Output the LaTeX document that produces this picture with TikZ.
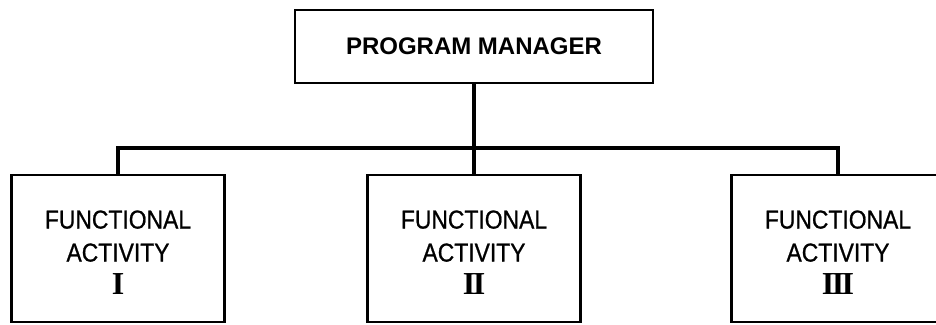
\documentclass[tikz,border=0pt]{standalone}
\usepackage{fontspec}
\setmainfont{Liberation Sans}
\newfontfamily\boxfont[FakeStretch=0.88, FakeBold=0.8]{Liberation Sans}
\newfontfamily\numfont{Liberation Serif}
\newcommand{\actnum}[1]{\\[0pt]{\numfont\bfseries\fontsize{32}{32}\selectfont #1}}
\begin{document}
\begin{tikzpicture}[x=1pt, y=-1pt,
  box/.style={draw, line width=2.9pt, inner sep=0pt, align=center},
  unit/.style={box, minimum width=213pt, minimum height=147pt},
  unittext/.style={align=center, inner sep=0pt,
    font=\boxfont\fontsize{26}{33}\selectfont},
  link/.style={line width=3.4pt}]
\useasboundingbox (0,0) rectangle (936,324);

% head of the organisation
\node[box, minimum width=358pt, minimum height=73pt,
      font=\fontsize{24}{28}\selectfont\bfseries] (pm) at (474,46.5) {PROGRAM MANAGER};

% functional activities: frames
\node[unit] (f1) at (118,248.5) {};
\node[unit] (f2) at (474,248.5) {};
\node[unit] (f3) at (838,248.5) {};

% functional activities: captions
\node[unittext] (t1) at ([yshift=-4pt]f1.center) {FUNCTIONAL\\ACTIVITY\actnum{I}};
\node[unittext] (t2) at ([yshift=-4pt]f2.center) {FUNCTIONAL\\ACTIVITY\actnum{I\kern-2.5pt I}};
\node[unittext] (t3) at ([yshift=-4pt]f3.center) {FUNCTIONAL\\ACTIVITY\actnum{I\kern-2.5pt I\kern-2.5pt I}};

% reporting lines
\coordinate (bus) at (474,148);
\draw[link] (pm.south) -- (f2.north);
\draw[link] (f1.north) |- (bus) -| (f3.north);
\end{tikzpicture}
\end{document}
